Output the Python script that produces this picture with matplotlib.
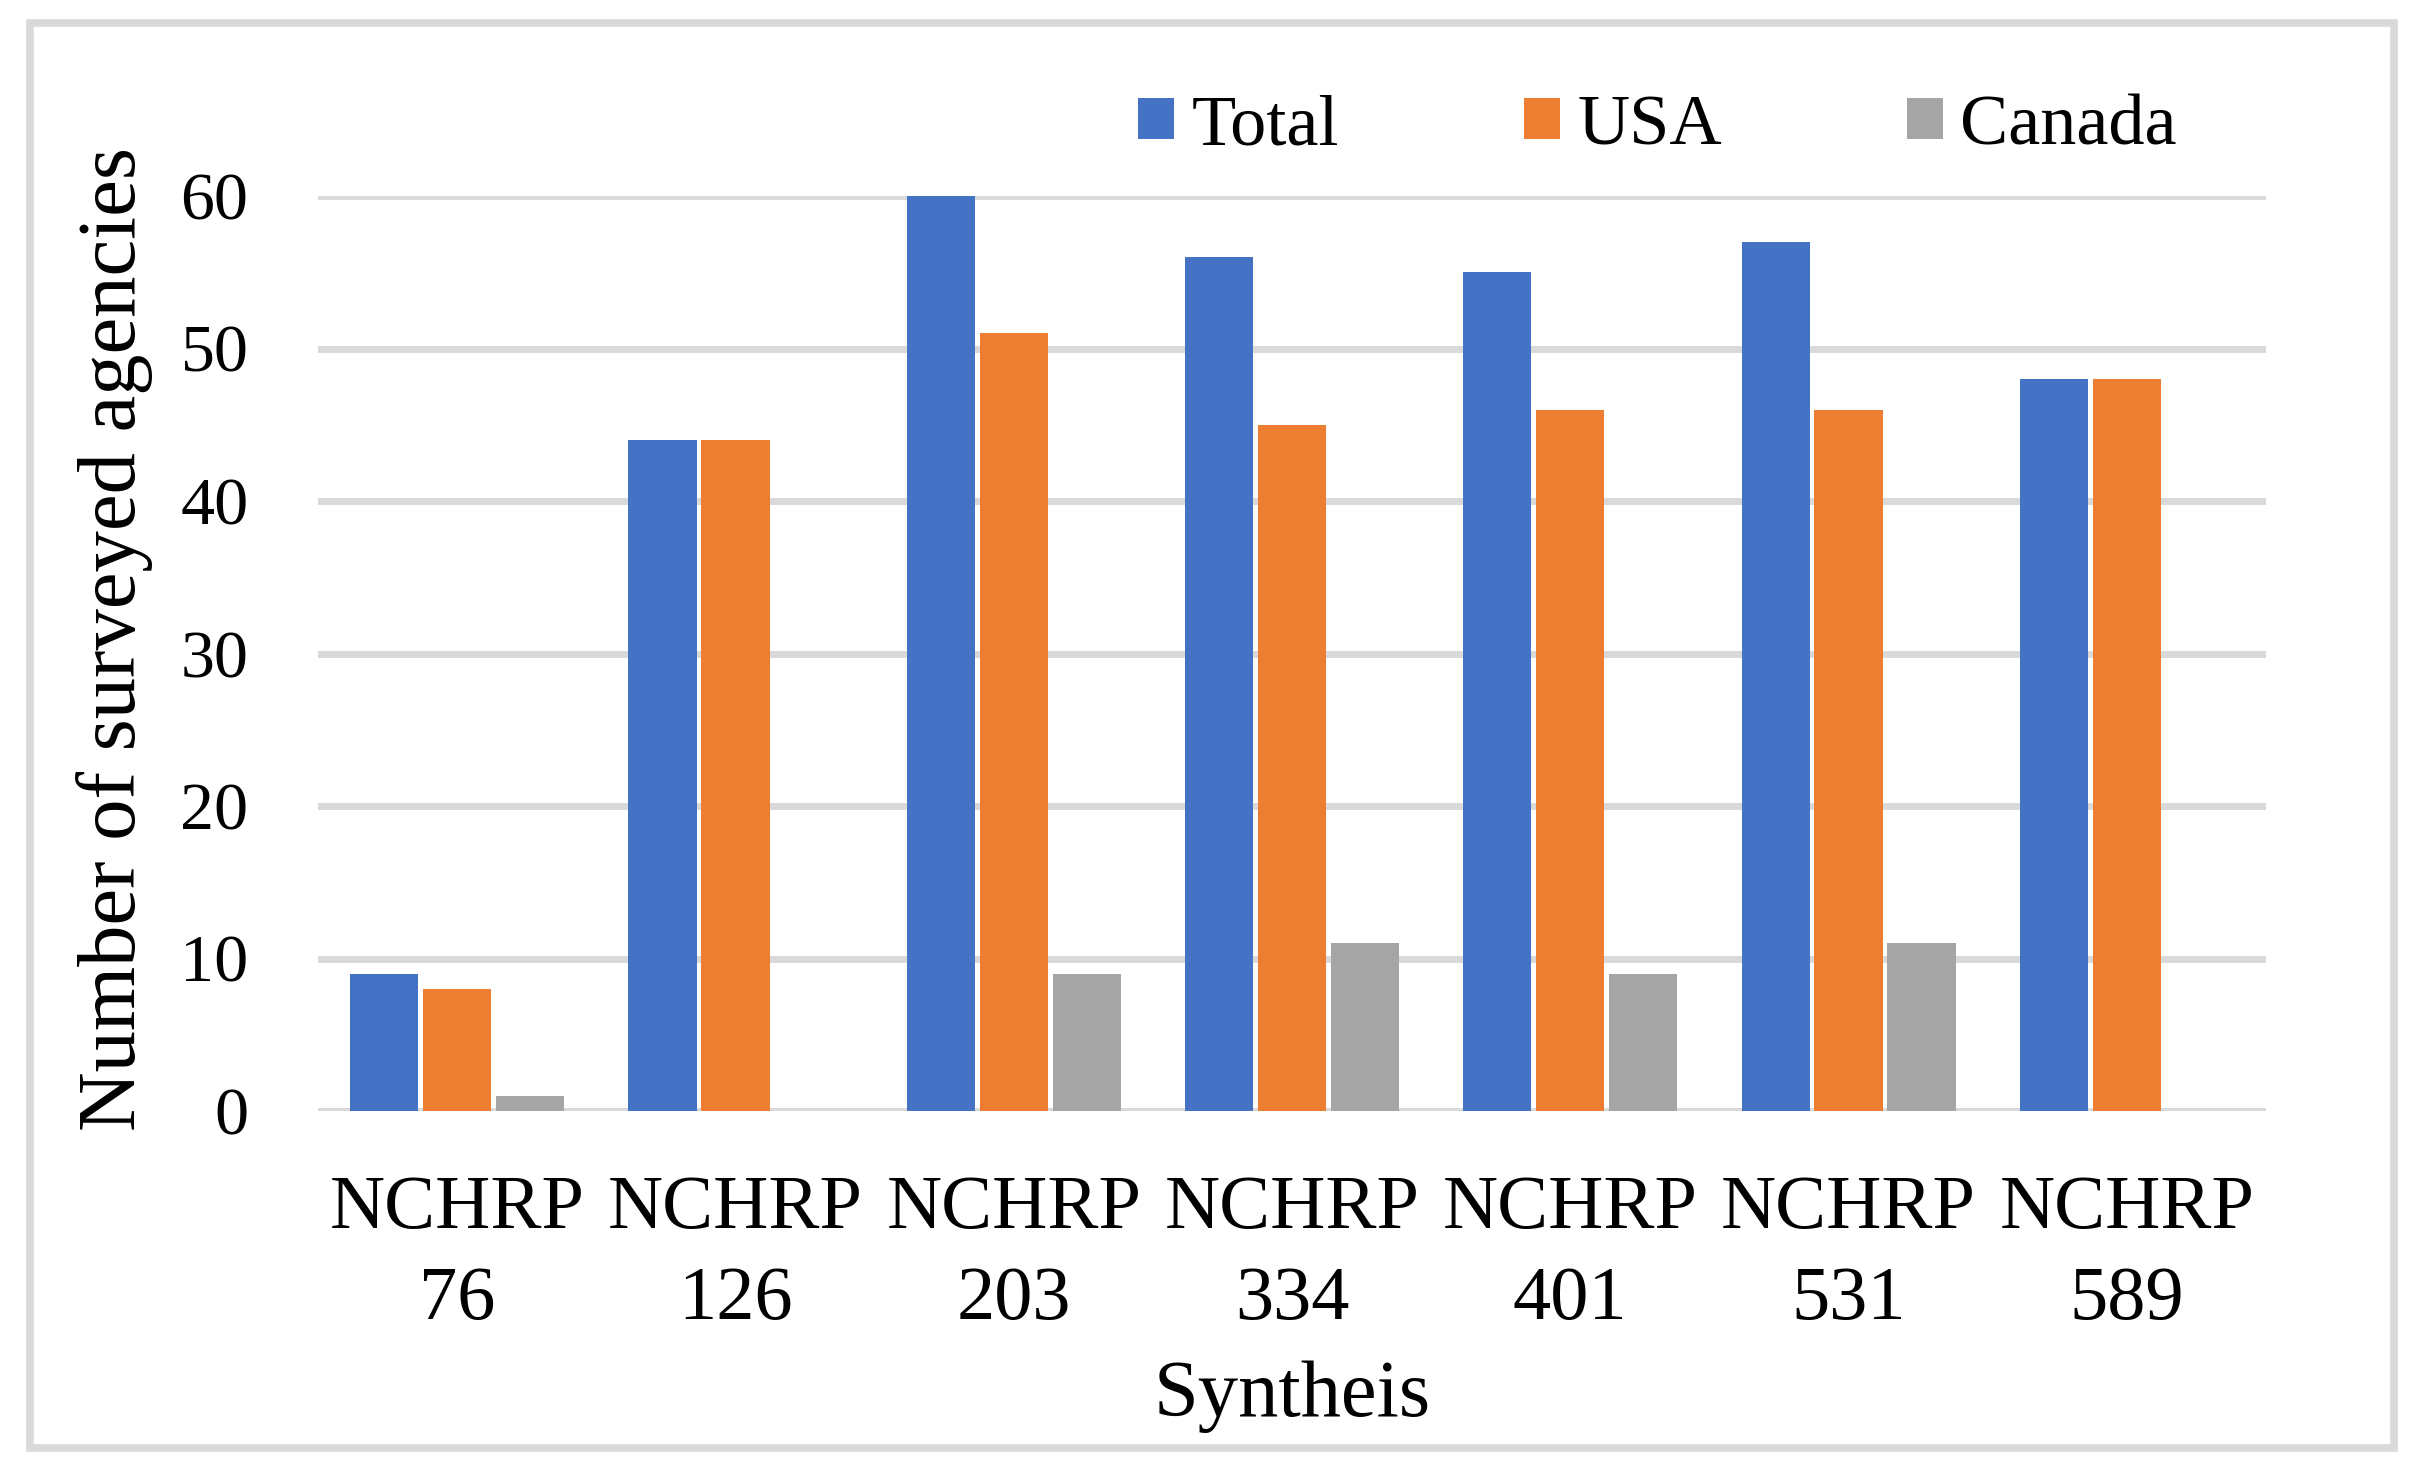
import numpy as np
import matplotlib
matplotlib.use("Agg")
from matplotlib import pyplot as plt
from matplotlib.patches import Rectangle

# chart data
categories = ["NCHRP\n76", "NCHRP\n126", "NCHRP\n203", "NCHRP\n334", "NCHRP\n401", "NCHRP\n531", "NCHRP\n589"]
total = [9, 44, 60, 56, 55, 57, 48]
usa = [8, 44, 51, 45, 46, 46, 48]
canada = [1, 0, 9, 11, 9, 11, 0]
yticks = [0, 10, 20, 30, 40, 50, 60]

plt.rcParams['font.family'] = ['Liberation Serif', 'DejaVu Serif']

fig = plt.figure(figsize=(24.19, 14.74), dpi=100)
# axes box: x 318..2266 px, y 196..1111 px
ax = fig.add_axes([318 / 2419, 1 - 1111 / 1474, 1948 / 2419, 915 / 1474])

x = np.arange(len(categories))
w = 0.245
off = 0.262
ax.bar(x - off, total, w, color="#4472C4", label="Total", zorder=3)
ax.bar(x, usa, w, color="#ED7D31", label="USA", zorder=3)
ax.bar(x + off, canada, w, color="#A5A5A5", label="Canada", zorder=3)

ax.set_xlim(-0.5, len(categories) - 0.5)
ax.set_ylim(0, 60)
ax.set_yticks(yticks)
ax.yaxis.grid(True, color="#D9D9D9", linewidth=5, zorder=0)
for s in ax.spines.values():
    s.set_visible(False)
ax.axhline(0, color="#D9D9D9", linewidth=5, zorder=2)
ax.tick_params(axis="both", length=0)
ax.tick_params(axis="y", pad=50, labelsize=49)
ax.tick_params(axis="x", pad=46, labelsize=55)
ax.set_xticks(x)
ax.set_xticklabels(categories, linespacing=1.41)
ax.set_ylabel("Number of surveyed agencies", fontsize=59.5, labelpad=20)
ax.yaxis.label.set_y(0.516)
ax.set_xlabel("Syntheis", fontsize=58, labelpad=18)

leg = fig.legend(loc="center left", bbox_to_anchor=(1138 / 2419, 0.914), ncol=3, frameon=False,
                 fontsize=52, handlelength=0.5, handleheight=0.5, handletextpad=0.24,
                 columnspacing=2.56, borderpad=0, borderaxespad=0)

# outer chart border
fig.patches.append(Rectangle((0.0124, 0.0176), 0.9773, 0.9668, transform=fig.transFigure,
                             fill=False, edgecolor="#D9D9D9", linewidth=5.5))

fig.savefig("out.png", dpi=100)
